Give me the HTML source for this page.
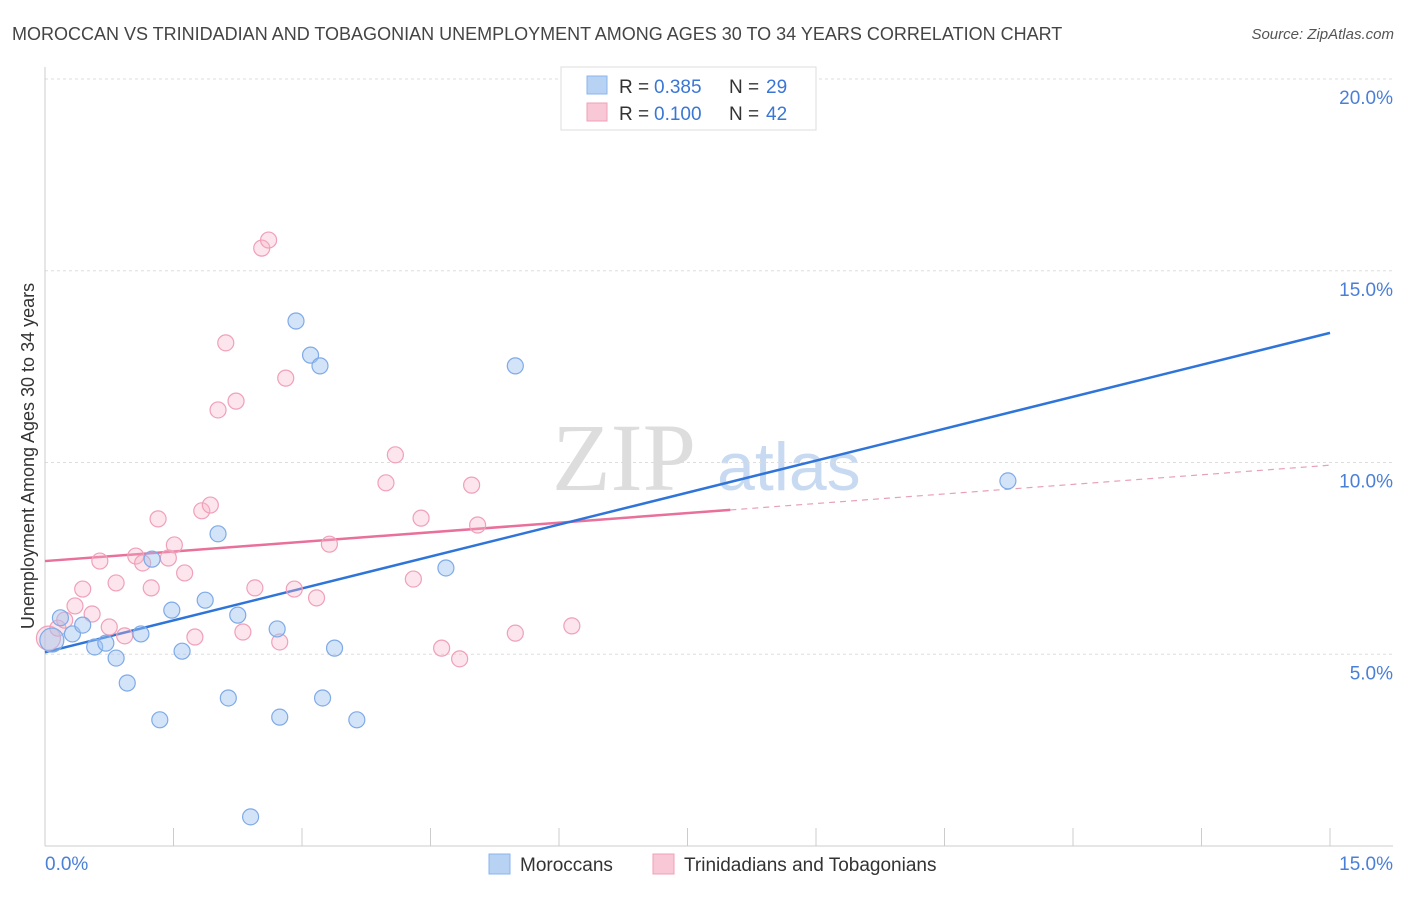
<!DOCTYPE html>
<html><head><meta charset="utf-8"><style>
body{margin:0;background:#fff;font-family:"Liberation Sans",sans-serif;}
</style></head><body>
<svg width="1406" height="892" xmlns="http://www.w3.org/2000/svg" font-family="Liberation Sans, sans-serif">
<text x="12" y="40" font-size="18" fill="#444">MOROCCAN VS TRINIDADIAN AND TOBAGONIAN UNEMPLOYMENT AMONG AGES 30 TO 34 YEARS CORRELATION CHART</text>
<text x="1394" y="39" font-size="15" fill="#555" font-style="italic" text-anchor="end">Source: ZipAtlas.com</text>
<g>
<text x="552" y="490" font-size="96" font-family="Liberation Serif, serif" fill="#ddd">ZIP</text>
<text x="717" y="490" font-size="68" fill="#c8daf2">atlas</text>
</g>
<g id="grid"></g>
<g id="axes"></g>
<g id="lines"></g>
<g id="pts"></g>
<g>
<rect x="561" y="67" width="255" height="63" fill="#fff" stroke="#ddd"/>
<rect x="587" y="76" width="20" height="18" fill="#b8d2f4" stroke="#8ab4ec"/>
<g font-size="19" fill="#333">
<text x="619" y="93">R =</text><text x="654" y="93" fill="#3a76d6">0.385</text><text x="729" y="93">N =</text><text x="766" y="93" fill="#3a76d6">29</text></g>
<rect x="587" y="103" width="20" height="18" fill="#f8c8d6" stroke="#f0a0b8"/>
<g font-size="19" fill="#333">
<text x="619" y="120">R =</text><text x="654" y="120" fill="#3a76d6">0.100</text><text x="729" y="120">N =</text><text x="766" y="120" fill="#3a76d6">42</text></g>
</g>
<g>
<rect x="489" y="854" width="21" height="20" fill="#b8d2f4" stroke="#8ab4ec"/>
<text x="520" y="871" font-size="19" fill="#333">Moroccans</text>
<rect x="653" y="854" width="21" height="20" fill="#f8c8d6" stroke="#f0a0b8"/>
<text x="684" y="871" font-size="19" fill="#333">Trinidadians and Tobagonians</text>
</g>
<text transform="translate(34,456) rotate(-90)" font-size="18" fill="#333" text-anchor="middle">Unemployment Among Ages 30 to 34 years</text>
</svg>
<script>
const blueX=[0.08,0.18,0.32,0.44,0.58,0.71,0.83,0.96,1.12,1.25,1.34,1.48,1.60,1.87,2.02,2.14,2.25,2.40,2.71,2.74,2.93,3.10,3.21,3.24,3.38,3.64,4.68,5.49,11.24];
const blueY=[5.37,5.95,5.53,5.76,5.19,5.29,4.90,4.25,5.53,7.48,3.29,6.15,5.08,6.41,8.14,3.86,6.02,0.76,5.66,3.36,13.69,12.80,12.52,3.86,5.16,3.29,7.25,12.52,9.52];
const pinkX=[0.04,0.15,0.23,0.35,0.44,0.55,0.64,0.75,0.83,0.93,1.06,1.14,1.24,1.32,1.44,1.51,1.63,1.75,1.83,1.93,2.02,2.11,2.23,2.31,2.45,2.53,2.61,2.74,2.81,2.91,3.17,3.32,3.98,4.09,4.30,4.39,4.63,4.84,4.98,5.05,5.49,6.15];
const pinkY=[5.42,5.68,5.89,6.26,6.70,6.05,7.43,5.71,6.86,5.48,7.56,7.38,6.73,8.53,7.51,7.85,7.12,5.45,8.74,8.89,11.37,13.12,11.60,5.58,6.73,15.59,15.80,5.32,12.20,6.70,6.47,7.87,9.47,10.20,6.96,8.55,5.16,4.88,9.41,8.37,5.55,5.74];
const yTicks=[5,10,15,20];
const yTickLabels=["5.0%","10.0%","15.0%","20.0%"];
const blueTrend=[5.05,13.38];
const pinkTrend=[7.43,9.93];
const pinkSolidEnd=8.0;
const NS="http://www.w3.org/2000/svg";
const sx=v=>45+v*(1285/15), sy=v=>846-v*38.35;
function mk(t,a,p){const e=document.createElementNS(NS,t);for(const k in a)e.setAttribute(k,a[k]);p.appendChild(e);return e;}
const grid=document.getElementById('grid'),axes=document.getElementById('axes'),lines=document.getElementById('lines'),pts=document.getElementById('pts');
yTicks.forEach((t,i)=>{
 const l=mk('line',{x1:45,x2:1393,y1:sy(t),y2:sy(t),stroke:'#ddd','stroke-dasharray':'3,3'},grid);
 
 
 const tx=mk('text',{x:1393,y:sy(t)+25,'font-size':19,fill:'#4a7fd8','text-anchor':'end'},grid);
 tx.textContent=yTickLabels[i];
 
 
});
mk('line',{x1:45,x2:45,y1:67,y2:846,stroke:'#ccc'},axes);
mk('line',{x1:45,x2:1393,y1:846,y2:846,stroke:'#ccc'},axes);
for(let i=0;i<=10;i++){const t=mk('line',{x1:sx(i*1.5),x2:sx(i*1.5),y1:828,y2:846,stroke:'#ccc'},axes);
 
 }
const x0=mk('text',{x:45,y:870,'font-size':19,fill:'#4a7fd8'},axes);x0.textContent='0.0%';


const x1=mk('text',{x:1393,y:870,'font-size':19,fill:'#4a7fd8','text-anchor':'end'},axes);x1.textContent='15.0%';


function pt(x,y,i,fill,stroke,name){const c=mk('circle',{cx:sx(x),cy:sy(y),r:i===0?12:8,fill:fill,stroke:stroke,'stroke-width':1.2},pts);
 
 }
pinkX.forEach((x,i)=>pt(x,pinkY[i],i,'rgba(246,180,200,0.35)','#f0a0b8','pink-point'));
blueX.forEach((x,i)=>pt(x,blueY[i],i,'rgba(160,196,240,0.45)','#7eaae8','blue-point'));
const pm=pinkTrend[0]+(pinkTrend[1]-pinkTrend[0])*pinkSolidEnd/15;
const p1=mk('line',{x1:sx(0),y1:sy(pinkTrend[0]),x2:sx(pinkSolidEnd),y2:sy(pm),stroke:'#e8709a','stroke-width':2.5},lines);


const p2=mk('line',{x1:sx(pinkSolidEnd),y1:sy(pm),x2:sx(15),y2:sy(pinkTrend[1]),stroke:'#e8a0b8','stroke-width':1.2,'stroke-dasharray':'6,5'},lines);


const b=mk('line',{x1:sx(0),y1:sy(blueTrend[0]),x2:sx(15),y2:sy(blueTrend[1]),stroke:'#2f74d8','stroke-width':2.5},lines);


</script>
</body></html>
